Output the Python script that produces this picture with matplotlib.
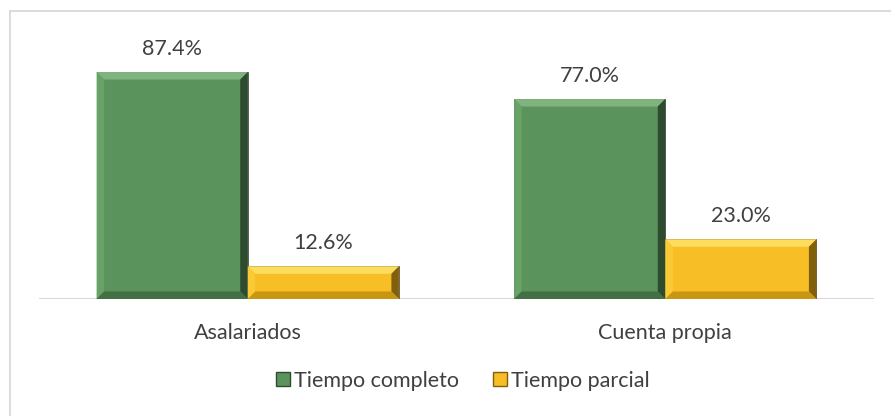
import matplotlib
matplotlib.use("Agg")
import matplotlib.pyplot as plt
from matplotlib.patches import Polygon
from matplotlib.lines import Line2D

categories = ["Asalariados", "Cuenta propia"]
series = ["Tiempo completo", "Tiempo parcial"]
completo = [87.4, 77.0]
parcial = [12.6, 23.0]

plt.rcParams["font.family"] = ["Lato", "DejaVu Sans"]
txt = "#404040"
fs = 15.5

# face, top, left, right, bottom
pal = {
    "Tiempo completo": ("#5A935C", "#80B37D", "#68A267", "#2E4B2F", "#436F44"),
    "Tiempo parcial": ("#F7BE25", "#FCDD5E", "#FAC936", "#80600C", "#C89612"),
}

fig = plt.figure(figsize=(8.91, 4.16), dpi=100)
ax = fig.add_axes([39 / 891, 117 / 416, 835 / 891, 259.7 / 416])
ax.set_xlim(-0.5, 1.5)
ax.set_ylim(0, 100)

w = 0.362
x = list(range(len(categories)))

# bevel size in pixels, turned into data units through the axes transform
p0 = ax.transData.transform((0, 0))
p1 = ax.transData.transform((1, 1))
dx = 7.5 / (p1[0] - p0[0])
dy = 7.5 / (p1[1] - p0[1])

def bevel(x0, x1, h, cols):
    face, top, left, right, bot = cols
    b = min(dy, h / 2)
    ax.add_patch(Polygon([(x0, h), (x1, h), (x1 - dx, h - b), (x0 + dx, h - b)],
                         closed=True, facecolor=top, edgecolor="none", zorder=3))
    ax.add_patch(Polygon([(x0, 0), (x0, h), (x0 + dx, h - b), (x0 + dx, b)],
                         closed=True, facecolor=left, edgecolor="none", zorder=3))
    ax.add_patch(Polygon([(x1, 0), (x1, h), (x1 - dx, h - b), (x1 - dx, b)],
                         closed=True, facecolor=right, edgecolor="none", zorder=3))
    ax.add_patch(Polygon([(x0, 0), (x1, 0), (x1 - dx, b), (x0 + dx, b)],
                         closed=True, facecolor=bot, edgecolor="none", zorder=3))

for name, vals, off in [(series[0], completo, -w / 2), (series[1], parcial, w / 2)]:
    cols = pal[name]
    bars = ax.bar([i + off for i in x], vals, width=w, color=cols[0],
                  edgecolor="#3a3a3a", linewidth=0.5, zorder=2)
    for b_, v in zip(bars, vals):
        bevel(b_.get_x(), b_.get_x() + b_.get_width(), v, cols)
        ax.text(b_.get_x() + b_.get_width() / 2, v + 5.0, f"{v:.1f}%",
                ha="center", va="bottom", fontsize=fs, color=txt)

ax.axhline(0, color="#d9d9d9", linewidth=1.5, zorder=1)
for s in ax.spines.values():
    s.set_visible(False)
ax.set_yticks([])
ax.set_xticks(x)
ax.set_xticklabels(categories, fontsize=fs, color=txt)
ax.tick_params(axis="x", length=0, pad=17)

handles = [Line2D([], [], marker="s", linestyle="none", markersize=9.5,
                  markerfacecolor=pal[s][0], markeredgecolor=pal[s][3]) for s in series]
fig.legend(handles, series, loc="center", bbox_to_anchor=(460 / 891, 1 - 381 / 416),
           ncol=2, frameon=False, fontsize=fs, handletextpad=-0.1, handlelength=1.2,
           columnspacing=1.3, labelcolor=txt)

# chart border (only top and left are within the picture)
fig.add_artist(Line2D([9.5 / 891, 9.5 / 891], [0, 1 - 10.5 / 416], color="#d9d9d9", lw=1.3))
fig.add_artist(Line2D([9.5 / 891, 1], [1 - 10.5 / 416, 1 - 10.5 / 416], color="#d9d9d9", lw=1.3))

fig.savefig("out.png", dpi=100, facecolor="white")
